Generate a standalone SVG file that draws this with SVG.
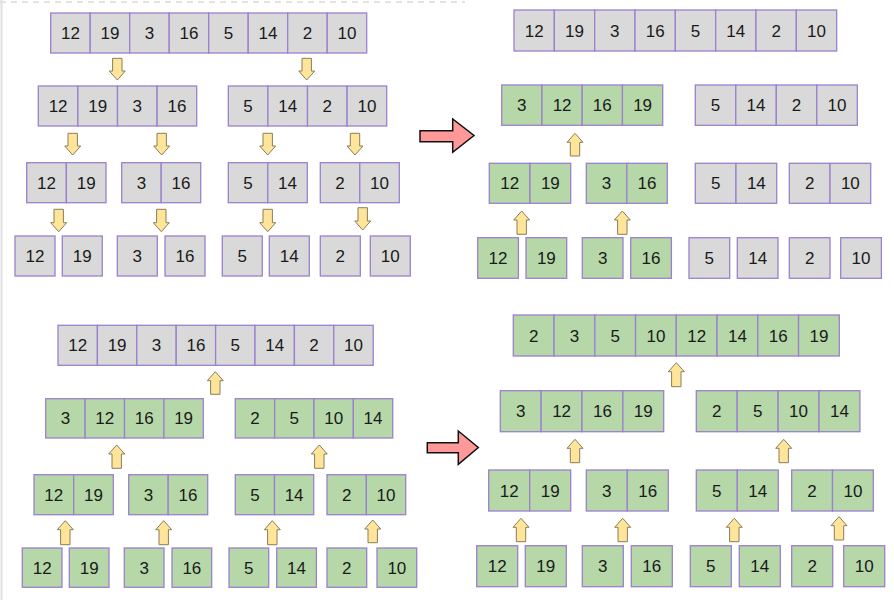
<svg xmlns="http://www.w3.org/2000/svg" width="894" height="600" viewBox="0 0 894 600">
<style>
.g{fill:#d9d9d9;stroke:#9b80cf;stroke-width:1.3}
.n{fill:#b6d7a8;stroke:#9b80cf;stroke-width:1.3}
.t{font-family:"Liberation Sans",Arial,sans-serif;font-size:17px;fill:#1a1a1a;text-anchor:middle}
.ya{fill:#ffe599;stroke:#8a7d5a;stroke-width:1}
.ra{fill:#ff9999;stroke:#111;stroke-width:1.5;stroke-linejoin:miter}
</style>
<rect width="894" height="600" fill="#fff"/>
<line x1="0" y1="2" x2="465" y2="2" stroke="#c8c8c8" stroke-width="1" stroke-dasharray="6,5"/>
<line x1="1.5" y1="0" x2="1.5" y2="600" stroke="#e0e0e0" stroke-width="2"/>

<g id="tl-row1">
<rect class="g" x="50.7" y="13" width="39.5" height="40"/><rect class="g" x="90.2" y="13" width="39.5" height="40"/><rect class="g" x="129.7" y="13" width="39.5" height="40"/><rect class="g" x="169.2" y="13" width="39.5" height="40"/><rect class="g" x="208.7" y="13" width="39.5" height="40"/><rect class="g" x="248.2" y="13" width="39.5" height="40"/><rect class="g" x="287.7" y="13" width="39.5" height="40"/><rect class="g" x="327.2" y="13" width="39.5" height="40"/>
<text class="t" x="70.45" y="39">12</text><text class="t" x="109.95" y="39">19</text><text class="t" x="149.45" y="39">3</text><text class="t" x="188.95" y="39">16</text><text class="t" x="228.45" y="39">5</text><text class="t" x="267.95" y="39">14</text><text class="t" x="307.45" y="39">2</text><text class="t" x="346.95" y="39">10</text>
</g>
<g id="tl-row2-left">
<rect class="g" x="38.3" y="86" width="39.6" height="40"/><rect class="g" x="77.9" y="86" width="39.6" height="40"/><rect class="g" x="117.5" y="86" width="39.6" height="40"/><rect class="g" x="157.1" y="86" width="39.6" height="40"/>
<text class="t" x="58.1" y="112">12</text><text class="t" x="97.7" y="112">19</text><text class="t" x="137.3" y="112">3</text><text class="t" x="176.9" y="112">16</text>
</g>
<g id="tl-row2-right">
<rect class="g" x="228.3" y="86" width="39.6" height="40"/><rect class="g" x="267.9" y="86" width="39.6" height="40"/><rect class="g" x="307.5" y="86" width="39.6" height="40"/><rect class="g" x="347.1" y="86" width="39.6" height="40"/>
<text class="t" x="248.1" y="112">5</text><text class="t" x="287.7" y="112">14</text><text class="t" x="327.3" y="112">2</text><text class="t" x="366.9" y="112">10</text>
</g>
<g id="tl-row3-a">
<rect class="g" x="26.7" y="162.7" width="39.65" height="40"/><rect class="g" x="66.35" y="162.7" width="39.65" height="40"/>
<text class="t" x="46.5" y="188.7">12</text><text class="t" x="86.2" y="188.7">19</text>
</g>
<g id="tl-row3-b">
<rect class="g" x="121.7" y="162.7" width="39.5" height="40"/><rect class="g" x="161.2" y="162.7" width="39.5" height="40"/>
<text class="t" x="141.45" y="188.7">3</text><text class="t" x="180.95" y="188.7">16</text>
</g>
<g id="tl-row3-c">
<rect class="g" x="228.3" y="162.7" width="39.5" height="40"/><rect class="g" x="267.8" y="162.7" width="39.5" height="40"/>
<text class="t" x="248.05" y="188.7">5</text><text class="t" x="287.55" y="188.7">14</text>
</g>
<g id="tl-row3-d">
<rect class="g" x="320.3" y="162.7" width="39.5" height="40"/><rect class="g" x="359.8" y="162.7" width="39.5" height="40"/>
<text class="t" x="340.05" y="188.7">2</text><text class="t" x="379.55" y="188.7">10</text>
</g>
<g id="tl-row4">
<rect class="g" x="15" y="236" width="40" height="40"/><rect class="g" x="62.3" y="236" width="40" height="40"/><rect class="g" x="117.3" y="236" width="40" height="40"/><rect class="g" x="165" y="236" width="40" height="40"/><rect class="g" x="222.3" y="236" width="40" height="40"/><rect class="g" x="269.3" y="236" width="40" height="40"/><rect class="g" x="320.3" y="236" width="40" height="40"/><rect class="g" x="370.3" y="236" width="40" height="40"/>
<text class="t" x="35" y="262">12</text><text class="t" x="82.3" y="262">19</text><text class="t" x="137.3" y="262">3</text><text class="t" x="185" y="262">16</text><text class="t" x="242.3" y="262">5</text><text class="t" x="289.3" y="262">14</text><text class="t" x="340.3" y="262">2</text><text class="t" x="390.3" y="262">10</text>
</g>

<g id="tr-row1">
<rect class="g" x="514" y="10" width="40.33" height="41"/><rect class="g" x="554.33" y="10" width="40.33" height="41"/><rect class="g" x="594.67" y="10" width="40.33" height="41"/><rect class="g" x="635" y="10" width="40.33" height="41"/><rect class="g" x="675.33" y="10" width="40.33" height="41"/><rect class="g" x="715.67" y="10" width="40.33" height="41"/><rect class="g" x="756" y="10" width="40.33" height="41"/><rect class="g" x="796.33" y="10" width="40.33" height="41"/>
<text class="t" x="534.2" y="36.5">12</text><text class="t" x="574.5" y="36.5">19</text><text class="t" x="614.8" y="36.5">3</text><text class="t" x="655.2" y="36.5">16</text><text class="t" x="695.5" y="36.5">5</text><text class="t" x="735.8" y="36.5">14</text><text class="t" x="776.2" y="36.5">2</text><text class="t" x="816.5" y="36.5">10</text>
</g>
<g id="tr-row2-left">
<rect class="n" x="501.7" y="85" width="40.25" height="40.3"/><rect class="n" x="541.95" y="85" width="40.25" height="40.3"/><rect class="n" x="582.2" y="85" width="40.25" height="40.3"/><rect class="n" x="622.45" y="85" width="40.25" height="40.3"/>
<text class="t" x="521.8" y="111.2">3</text><text class="t" x="562.1" y="111.2">12</text><text class="t" x="602.3" y="111.2">16</text><text class="t" x="642.6" y="111.2">19</text>
</g>
<g id="tr-row2-right">
<rect class="g" x="695.3" y="85" width="40.5" height="40.3"/><rect class="g" x="735.8" y="85" width="40.5" height="40.3"/><rect class="g" x="776.3" y="85" width="40.5" height="40.3"/><rect class="g" x="816.8" y="85" width="40.5" height="40.3"/>
<text class="t" x="715.55" y="111.2">5</text><text class="t" x="756.05" y="111.2">14</text><text class="t" x="796.55" y="111.2">2</text><text class="t" x="837.05" y="111.2">10</text>
</g>
<g id="tr-row3-a">
<rect class="n" x="489.3" y="163.3" width="40.7" height="40"/><rect class="n" x="530" y="163.3" width="40.7" height="40"/>
<text class="t" x="509.65" y="189.3">12</text><text class="t" x="550.35" y="189.3">19</text>
</g>
<g id="tr-row3-b">
<rect class="n" x="586.3" y="163.3" width="40.5" height="40"/><rect class="n" x="626.8" y="163.3" width="40.5" height="40"/>
<text class="t" x="606.55" y="189.3">3</text><text class="t" x="647.05" y="189.3">16</text>
</g>
<g id="tr-row3-c">
<rect class="g" x="695.3" y="163.3" width="40.7" height="40"/><rect class="g" x="736" y="163.3" width="40.7" height="40"/>
<text class="t" x="715.65" y="189.3">5</text><text class="t" x="756.35" y="189.3">14</text>
</g>
<g id="tr-row3-d">
<rect class="g" x="789.3" y="163.3" width="40.7" height="40"/><rect class="g" x="830" y="163.3" width="40.7" height="40"/>
<text class="t" x="809.65" y="189.3">2</text><text class="t" x="850.35" y="189.3">10</text>
</g>
<g id="tr-row4">
<rect class="n" x="477.7" y="237.7" width="40.7" height="40.6"/><rect class="n" x="526" y="237.7" width="40.7" height="40.6"/><rect class="n" x="582.3" y="237.7" width="40.7" height="40.6"/><rect class="n" x="630.7" y="237.7" width="40.7" height="40.6"/><rect class="g" x="689" y="237.7" width="40.7" height="40.6"/><rect class="g" x="737.3" y="237.7" width="40.7" height="40.6"/><rect class="g" x="789.3" y="237.7" width="40.7" height="40.6"/><rect class="g" x="840.7" y="237.7" width="40.7" height="40.6"/>
<text class="t" x="498.05" y="264">12</text><text class="t" x="546.35" y="264">19</text><text class="t" x="602.65" y="264">3</text><text class="t" x="651.05" y="264">16</text><text class="t" x="709.35" y="264">5</text><text class="t" x="757.65" y="264">14</text><text class="t" x="809.65" y="264">2</text><text class="t" x="861.05" y="264">10</text>
</g>

<g id="bl-row1">
<rect class="g" x="58" y="325.3" width="39.4" height="40"/><rect class="g" x="97.4" y="325.3" width="39.4" height="40"/><rect class="g" x="136.8" y="325.3" width="39.4" height="40"/><rect class="g" x="176.2" y="325.3" width="39.4" height="40"/><rect class="g" x="215.6" y="325.3" width="39.4" height="40"/><rect class="g" x="255" y="325.3" width="39.4" height="40"/><rect class="g" x="294.4" y="325.3" width="39.4" height="40"/><rect class="g" x="333.8" y="325.3" width="39.4" height="40"/>
<text class="t" x="77.7" y="351.3">12</text><text class="t" x="117.1" y="351.3">19</text><text class="t" x="156.5" y="351.3">3</text><text class="t" x="195.9" y="351.3">16</text><text class="t" x="235.3" y="351.3">5</text><text class="t" x="274.7" y="351.3">14</text><text class="t" x="314.1" y="351.3">2</text><text class="t" x="353.5" y="351.3">10</text>
</g>
<g id="bl-row2-left">
<rect class="n" x="45.7" y="398.7" width="39.4" height="39.3"/><rect class="n" x="85.1" y="398.7" width="39.4" height="39.3"/><rect class="n" x="124.5" y="398.7" width="39.4" height="39.3"/><rect class="n" x="163.9" y="398.7" width="39.4" height="39.3"/>
<text class="t" x="65.4" y="424.35">3</text><text class="t" x="104.8" y="424.35">12</text><text class="t" x="144.2" y="424.35">16</text><text class="t" x="183.6" y="424.35">19</text>
</g>
<g id="bl-row2-right">
<rect class="n" x="235.3" y="398.7" width="39.35" height="39.3"/><rect class="n" x="274.65" y="398.7" width="39.35" height="39.3"/><rect class="n" x="314" y="398.7" width="39.35" height="39.3"/><rect class="n" x="353.35" y="398.7" width="39.35" height="39.3"/>
<text class="t" x="254.98" y="424.35">2</text><text class="t" x="294.33" y="424.35">5</text><text class="t" x="333.68" y="424.35">10</text><text class="t" x="373.03" y="424.35">14</text>
</g>
<g id="bl-row3-a">
<rect class="n" x="34" y="474.7" width="39.65" height="40"/><rect class="n" x="73.65" y="474.7" width="39.65" height="40"/>
<text class="t" x="53.8" y="500.7">12</text><text class="t" x="93.5" y="500.7">19</text>
</g>
<g id="bl-row3-b">
<rect class="n" x="128.7" y="474.7" width="39.5" height="40"/><rect class="n" x="168.2" y="474.7" width="39.5" height="40"/>
<text class="t" x="148.45" y="500.7">3</text><text class="t" x="187.95" y="500.7">16</text>
</g>
<g id="bl-row3-c">
<rect class="n" x="235.3" y="474.7" width="39.2" height="40"/><rect class="n" x="274.5" y="474.7" width="39.2" height="40"/>
<text class="t" x="254.9" y="500.7">5</text><text class="t" x="294.1" y="500.7">14</text>
</g>
<g id="bl-row3-d">
<rect class="n" x="327" y="474.7" width="39.35" height="40"/><rect class="n" x="366.35" y="474.7" width="39.35" height="40"/>
<text class="t" x="346.7" y="500.7">2</text><text class="t" x="386" y="500.7">10</text>
</g>
<g id="bl-row4">
<rect class="n" x="22.3" y="548" width="39.7" height="39.3"/><rect class="n" x="69.3" y="548" width="39.7" height="39.3"/><rect class="n" x="124.3" y="548" width="39.7" height="39.3"/><rect class="n" x="172" y="548" width="39.7" height="39.3"/><rect class="n" x="229" y="548" width="39.7" height="39.3"/><rect class="n" x="276.7" y="548" width="39.7" height="39.3"/><rect class="n" x="327" y="548" width="39.7" height="39.3"/><rect class="n" x="377" y="548" width="39.7" height="39.3"/>
<text class="t" x="42.15" y="573.65">12</text><text class="t" x="89.15" y="573.65">19</text><text class="t" x="144.15" y="573.65">3</text><text class="t" x="191.85" y="573.65">16</text><text class="t" x="248.85" y="573.65">5</text><text class="t" x="296.55" y="573.65">14</text><text class="t" x="346.85" y="573.65">2</text><text class="t" x="396.85" y="573.65">10</text>
</g>

<g id="br-row1">
<rect class="n" x="513.3" y="315" width="40.75" height="41"/><rect class="n" x="554.05" y="315" width="40.75" height="41"/><rect class="n" x="594.8" y="315" width="40.75" height="41"/><rect class="n" x="635.55" y="315" width="40.75" height="41"/><rect class="n" x="676.3" y="315" width="40.75" height="41"/><rect class="n" x="717.05" y="315" width="40.75" height="41"/><rect class="n" x="757.8" y="315" width="40.75" height="41"/><rect class="n" x="798.55" y="315" width="40.75" height="41"/>
<text class="t" x="533.7" y="341.5">2</text><text class="t" x="574.4" y="341.5">3</text><text class="t" x="615.2" y="341.5">5</text><text class="t" x="655.9" y="341.5">10</text><text class="t" x="696.7" y="341.5">12</text><text class="t" x="737.5" y="341.5">14</text><text class="t" x="778.2" y="341.5">16</text><text class="t" x="819" y="341.5">19</text>
</g>
<g id="br-row2-left">
<rect class="n" x="500.3" y="390.7" width="40.85" height="41"/><rect class="n" x="541.15" y="390.7" width="40.85" height="41"/><rect class="n" x="582" y="390.7" width="40.85" height="41"/><rect class="n" x="622.85" y="390.7" width="40.85" height="41"/>
<text class="t" x="520.7" y="417.2">3</text><text class="t" x="561.6" y="417.2">12</text><text class="t" x="602.4" y="417.2">16</text><text class="t" x="643.3" y="417.2">19</text>
</g>
<g id="br-row2-right">
<rect class="n" x="696.3" y="390.7" width="40.9" height="41"/><rect class="n" x="737.2" y="390.7" width="40.9" height="41"/><rect class="n" x="778.1" y="390.7" width="40.9" height="41"/><rect class="n" x="819" y="390.7" width="40.9" height="41"/>
<text class="t" x="716.75" y="417.2">2</text><text class="t" x="757.65" y="417.2">5</text><text class="t" x="798.55" y="417.2">10</text><text class="t" x="839.45" y="417.2">14</text>
</g>
<g id="br-row3-a">
<rect class="n" x="488.7" y="470" width="41" height="41"/><rect class="n" x="529.7" y="470" width="41" height="41"/>
<text class="t" x="509.2" y="496.5">12</text><text class="t" x="550.2" y="496.5">19</text>
</g>
<g id="br-row3-b">
<rect class="n" x="586.3" y="470" width="41" height="41"/><rect class="n" x="627.3" y="470" width="41" height="41"/>
<text class="t" x="606.8" y="496.5">3</text><text class="t" x="647.8" y="496.5">16</text>
</g>
<g id="br-row3-c">
<rect class="n" x="696.3" y="470" width="41" height="41"/><rect class="n" x="737.3" y="470" width="41" height="41"/>
<text class="t" x="716.8" y="496.5">5</text><text class="t" x="757.8" y="496.5">14</text>
</g>
<g id="br-row3-d">
<rect class="n" x="791.7" y="470" width="40.8" height="41"/><rect class="n" x="832.5" y="470" width="40.8" height="41"/>
<text class="t" x="812.1" y="496.5">2</text><text class="t" x="852.9" y="496.5">10</text>
</g>
<g id="br-row4">
<rect class="n" x="476.7" y="545.7" width="41" height="41"/><rect class="n" x="525.3" y="545.7" width="41" height="41"/><rect class="n" x="582.3" y="545.7" width="41" height="41"/><rect class="n" x="631.3" y="545.7" width="41" height="41"/><rect class="n" x="690.3" y="545.7" width="41" height="41"/><rect class="n" x="739.3" y="545.7" width="41" height="41"/><rect class="n" x="791.7" y="545.7" width="41" height="41"/><rect class="n" x="843.7" y="545.7" width="41" height="41"/>
<text class="t" x="497.2" y="572.2">12</text><text class="t" x="545.8" y="572.2">19</text><text class="t" x="602.8" y="572.2">3</text><text class="t" x="651.8" y="572.2">16</text><text class="t" x="710.8" y="572.2">5</text><text class="t" x="759.8" y="572.2">14</text><text class="t" x="812.2" y="572.2">2</text><text class="t" x="864.2" y="572.2">10</text>
</g>

<g id="connectors">
<polygon class="ya" points="112.6,58.3 122,58.3 122,71 125.3,71 117.3,80 109.3,71 112.6,71"/>
<polygon class="ya" points="302,58.3 311.4,58.3 311.4,71 314.7,71 306.7,80 298.7,71 302,71"/>
<polygon class="ya" points="68,133.3 77.4,133.3 77.4,146 80.7,146 72.7,155 64.7,146 68,146"/>
<polygon class="ya" points="157,133.3 166.4,133.3 166.4,146 169.7,146 161.7,155 153.7,146 157,146"/>
<polygon class="ya" points="263,133.3 272.4,133.3 272.4,146 275.7,146 267.7,155 259.7,146 263,146"/>
<polygon class="ya" points="350.3,133.3 359.7,133.3 359.7,146 363,146 355,155 347,146 350.3,146"/>
<polygon class="ya" points="54,209.3 63.4,209.3 63.4,222.7 66.7,222.7 58.7,231.7 50.7,222.7 54,222.7"/>
<polygon class="ya" points="156.6,209.3 166,209.3 166,222.7 169.3,222.7 161.3,231.7 153.3,222.7 156.6,222.7"/>
<polygon class="ya" points="263,209.3 272.4,209.3 272.4,222.7 275.7,222.7 267.7,231.7 259.7,222.7 263,222.7"/>
<polygon class="ya" points="358,207.7 367.4,207.7 367.4,221 370.7,221 362.7,230 354.7,221 358,221"/>

<polygon class="ya" points="575,133.3 583,142.3 579.7,142.3 579.7,156 570.3,156 570.3,142.3 567,142.3"/>
<polygon class="ya" points="521.7,211 529.7,220 526.4,220 526.4,234.3 517,234.3 517,220 513.7,220"/>
<polygon class="ya" points="622.3,211 630.3,220 627,220 627,234.3 617.6,234.3 617.6,220 614.3,220"/>

<polygon class="ya" points="215.3,371.7 223.3,380.7 220,380.7 220,394.3 210.6,394.3 210.6,380.7 207.3,380.7"/>
<polygon class="ya" points="116.7,445 124.7,454 121.4,454 121.4,468.3 112,468.3 112,454 108.7,454"/>
<polygon class="ya" points="319.3,445 327.3,454 324,454 324,468.3 314.6,468.3 314.6,454 311.3,454"/>
<polygon class="ya" points="65.3,520.7 73.3,529.7 70,529.7 70,544.7 60.6,544.7 60.6,529.7 57.3,529.7"/>
<polygon class="ya" points="163.7,520.7 171.7,529.7 168.4,529.7 168.4,544.7 159,544.7 159,529.7 155.7,529.7"/>
<polygon class="ya" points="272.3,520.7 280.3,529.7 277,529.7 277,544.7 267.6,544.7 267.6,529.7 264.3,529.7"/>
<polygon class="ya" points="372.7,520 380.7,529 377.4,529 377.4,542.7 368,542.7 368,529 364.7,529"/>

<polygon class="ya" points="676.3,362.7 684.3,371.7 681,371.7 681,386.7 671.6,386.7 671.6,371.7 668.3,371.7"/>
<polygon class="ya" points="575,439.3 583,448.3 579.7,448.3 579.7,462.7 570.3,462.7 570.3,448.3 567,448.3"/>
<polygon class="ya" points="783.7,439.3 791.7,448.3 788.4,448.3 788.4,462.7 779,462.7 779,448.3 775.7,448.3"/>
<polygon class="ya" points="521,518.3 529,527.3 525.7,527.3 525.7,541.7 516.3,541.7 516.3,527.3 513,527.3"/>
<polygon class="ya" points="622.7,518.3 630.7,527.3 627.4,527.3 627.4,541.7 618,541.7 618,527.3 614.7,527.3"/>
<polygon class="ya" points="734.3,518.3 742.3,527.3 739,527.3 739,541.7 729.6,541.7 729.6,527.3 726.3,527.3"/>
<polygon class="ya" points="839,516.7 847,525.7 843.7,525.7 843.7,540 834.3,540 834.3,525.7 831,525.7"/>

<polygon class="ra" points="420,130.7 452.7,130.7 452.7,119 474,135.5 452.7,152.3 452.7,141.7 420,141.7"/>
<polygon class="ra" points="427.3,442.7 458.3,442.7 458.3,431 478.3,447.5 458.3,464.3 458.3,452.7 427.3,452.7"/>
</g>
</svg>
